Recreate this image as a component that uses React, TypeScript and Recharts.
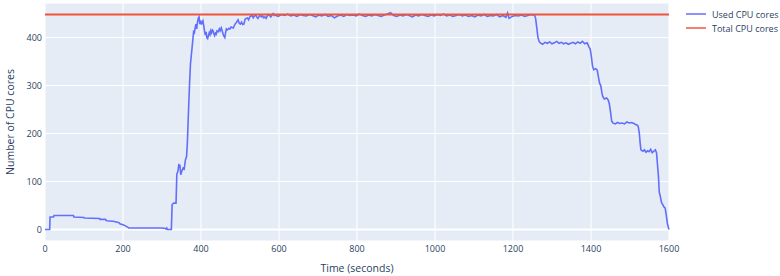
import { LineChart, Line, XAxis, YAxis, CartesianGrid, Legend, ReferenceLine, Label } from "recharts";

// time in seconds and used cores
const timeSec = [
  0, 12, 13, 22, 23, 50, 73, 74, 100, 101, 140, 141, 155, 158, 175, 190, 192, 200, 205, 212,
  215, 250, 280, 300, 308, 310, 312, 314, 324, 326, 330, 336, 338, 341, 343, 346, 348, 351, 354, 357,
  360, 363, 365, 367, 369, 371, 373, 375, 377, 379, 381, 383, 385, 387, 389, 391, 393, 395, 397, 399,
  401, 403, 405, 407, 409, 411, 413, 415, 417, 419, 421, 423, 425, 427, 429, 431, 433, 435, 437, 439,
  441, 444, 447, 449, 452, 455, 458, 461, 463, 465, 468, 471, 474, 477, 480, 483, 486, 489, 492, 495,
  498, 501, 504, 507, 510, 513, 516, 519, 522, 525, 528, 531, 534, 537, 540, 543, 546, 549, 552, 555,
  558, 561, 564, 567, 570, 573, 576, 579, 582, 585, 588,
  590, 598, 606, 614, 622, 630, 638, 646, 654, 662, 670, 678, 686, 694, 702, 710, 718, 726, 734, 742,
  750, 758, 766, 774, 782, 790, 798, 806, 814, 822, 830, 838, 846, 854, 862, 870, 878, 886, 894, 902,
  910, 918, 926, 934, 942, 950, 958, 966, 974, 982, 990, 998, 1006, 1014, 1022, 1030, 1038, 1046, 1054, 1062,
  1070, 1078, 1086, 1094, 1102, 1110, 1118, 1126, 1134, 1142, 1150, 1158, 1166, 1174, 1182, 1186, 1190, 1198, 1206, 1214,
  1222, 1230, 1238, 1246, 1252, 1255, 1258, 1261, 1264, 1267,
  1270, 1276, 1282, 1288, 1294, 1300, 1306, 1312, 1318, 1324, 1330, 1336, 1342, 1348, 1354, 1360, 1366, 1372, 1378, 1384,
  1390, 1395, 1398, 1401, 1404, 1407, 1412, 1416, 1419, 1422, 1425, 1428, 1430, 1434, 1440, 1444, 1447, 1450, 1453,
  1456, 1462, 1468, 1474, 1480, 1486, 1492, 1498, 1504, 1510, 1514, 1518, 1521, 1524, 1526, 1528,
  1533, 1537, 1541, 1545, 1549, 1553, 1557, 1561, 1565, 1568, 1570, 1573, 1575, 1578, 1581, 1584, 1587, 1590, 1593, 1596, 1600,
];

const usedCores = [
  0, 0, 26, 26, 29, 29, 29, 26, 25, 24, 23, 21, 21, 18, 17, 14, 12, 10, 8, 5,
  3, 3, 3, 3, 2, 1, 3, 0, 0, 52, 55, 55, 115, 122, 135, 134, 114, 122, 128, 126,
  145, 152, 180, 225, 270, 310, 345, 362, 378, 395, 412, 410, 420, 428, 418, 432, 440, 443, 428, 436,
  427, 432, 435, 425, 414, 405, 412, 400, 398, 404, 410, 406, 414, 410, 416, 414, 408, 404, 409, 407,
  414, 412, 418, 414, 420, 412, 404, 400, 410, 418, 416, 419, 418, 422, 421, 420, 426, 430, 433, 437,
  430, 428, 432, 427, 428, 438, 440, 441, 437, 443, 445, 446, 441, 445, 447, 443, 440, 444, 446, 443,
  445, 441, 443, 440, 445, 448, 446, 443, 447, 450, 446,
  447, 444, 448, 446, 449, 445, 447, 444, 448, 446, 445, 448, 446, 443, 447, 445, 448, 444, 446, 441,
  445, 447, 444, 448, 446, 447, 445, 449, 446, 444, 447, 445, 448, 446, 444, 447, 449, 452, 446, 444,
  447, 445, 448, 446, 443, 447, 445, 448, 446, 444, 447, 445, 448, 446, 449, 445, 447, 444, 446, 448,
  445, 447, 444, 446, 443, 447, 445, 448, 444, 446, 445, 448, 443, 446, 442, 451, 440, 444, 446, 445,
  447, 444, 446, 448, 447, 447, 440, 420, 400, 392,
  389, 386, 390, 388, 391, 387, 389, 392, 388, 390, 387, 389, 386, 388, 390, 387, 391, 388, 392, 387,
  389, 380, 376, 360, 340, 333, 335, 332, 318, 305, 300, 285, 278, 272, 274, 270, 262, 245, 226,
  222, 220, 223, 221, 222, 220, 224, 222, 223, 221, 219, 218, 215, 200, 180, 166,
  163, 166, 161, 164, 162, 167, 160, 163, 166, 160, 140, 110, 78, 68, 56, 52, 47, 45, 30, 12, 0,
];

const totalCores = 448;
const xTicks = [0, 200, 400, 600, 800, 1000, 1200, 1400, 1600];
const yTicks = [0, 100, 200, 300, 400];
const seriesNames = ["Used CPU cores", "Total CPU cores"];
const seriesColors = ["#636efa", "#ef553b"];

const usedData = timeSec.map((t, i) => ({ t, v: usedCores[i] }));
const totalData = [
  { t: xTicks[0], v: totalCores },
  { t: xTicks[xTicks.length - 1], v: totalCores },
];

const FONT = "'Open Sans', sans-serif";
const TEXT = "#2a3f5f";

function LegendBox(props: any) {
  const payload = [...(props.payload || [])].sort(
    (a: any, b: any) => seriesNames.indexOf(a.value) - seriesNames.indexOf(b.value)
  );
  return (
    <div style={{ fontFamily: FONT, fontSize: 9, color: TEXT }}>
      {payload.map((p: any) => (
        <div key={p.value} style={{ display: "flex", alignItems: "center", height: 14 }}>
          <svg width={26} height={4}>
            <line x1={0} y1={2} x2={20} y2={2} stroke={p.color} strokeWidth={1.5} />
          </svg>
          <span>{p.value}</span>
        </div>
      ))}
    </div>
  );
}

export default function App() {
  return (
    <div style={{ position: "absolute", left: 0, top: 0, width: 780, height: 276, background: "#fff" }}>
      <LineChart width={780} height={276} margin={{ top: 3, right: 111, bottom: 0, left: 0 }}>
        <CartesianGrid fill="#e5ecf6" stroke="#ffffff" strokeWidth={1} />
        <XAxis
          type="number"
          dataKey="t"
          domain={[xTicks[0], xTicks[xTicks.length - 1]]}
          ticks={xTicks}
          height={35}
          axisLine={false}
          tickLine={false}
          tickSize={0}
          tickMargin={5}
          tick={{ fill: TEXT, fontSize: 9, fontFamily: FONT }}
          allowDuplicatedCategory={false}
        >
          <Label
            content={(p: any) => {
              const vb = p.viewBox;
              return (
                <text
                  x={vb.x + vb.width / 2}
                  y={vb.y + 27}
                  textAnchor="middle"
                  dominantBaseline="central"
                  fill={TEXT}
                  fontSize={10.5}
                  fontFamily={FONT}
                >
                  Time (seconds)
                </text>
              );
            }}
          />
        </XAxis>
        <YAxis
          type="number"
          domain={[-24, 472]}
          ticks={yTicks}
          width={45}
          axisLine={false}
          tickLine={false}
          tickSize={0}
          tickMargin={3}
          tick={{ fill: TEXT, fontSize: 9, fontFamily: FONT }}
        >
          <Label
            content={(p: any) => {
              const vb = p.viewBox;
              const cx = vb.x + 10;
              const cy = vb.y + vb.height / 2;
              return (
                <text
                  x={cx}
                  y={cy}
                  transform={`rotate(-90 ${cx} ${cy})`}
                  textAnchor="middle"
                  dominantBaseline="central"
                  fill={TEXT}
                  fontSize={10.5}
                  fontFamily={FONT}
                >
                  Number of CPU cores
                </text>
              );
            }}
          />
        </YAxis>
        <ReferenceLine y={0} stroke="#ffffff" strokeWidth={2} />
        <Legend
          layout="vertical"
          align="center"
          verticalAlign="middle"
          wrapperStyle={{ left: 686, top: 7, width: 94 }}
          content={<LegendBox />}
        />
        <Line
          data={usedData}
          dataKey="v"
          name={seriesNames[0]}
          stroke={seriesColors[0]}
          strokeWidth={1.6}
          dot={false}
          activeDot={false}
          isAnimationActive={false}
        />
        <Line
          data={totalData}
          dataKey="v"
          name={seriesNames[1]}
          stroke={seriesColors[1]}
          strokeWidth={1.8}
          dot={false}
          activeDot={false}
          isAnimationActive={false}
        />
      </LineChart>
    </div>
  );
}
